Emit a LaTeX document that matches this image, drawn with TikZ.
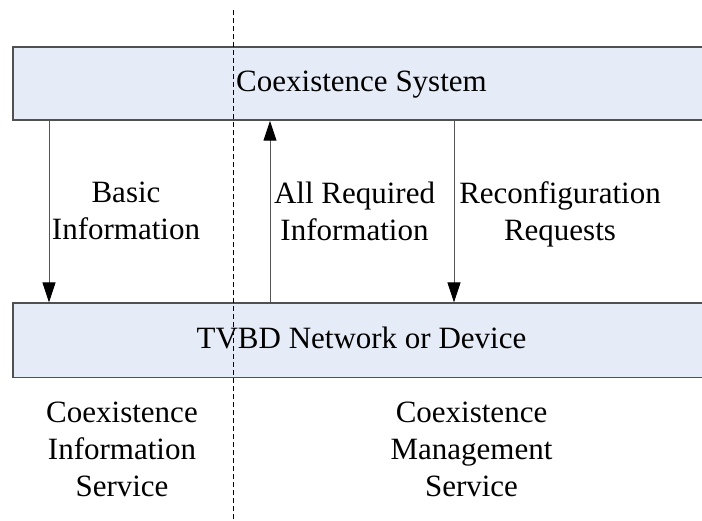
\documentclass[tikz,border=0pt]{standalone}
\usepackage{fontspec}
\setmainfont{Liberation Serif}
\usetikzlibrary{arrows.meta}
\definecolor{boxfill}{HTML}{E6ECF7}
\definecolor{boxline}{HTML}{505050}
\definecolor{arrline}{HTML}{555555}
\begin{document}
\begin{tikzpicture}[x=1pt,y=-1pt,
  every node/.style={font=\fontsize{31}{37}\selectfont},
  box/.style={draw=boxline, line width=1.5pt, fill=boxfill, minimum width=697pt, inner sep=0pt, text height=22pt, text depth=5pt},
  lbl/.style={align=center, inner sep=0pt},
  flow/.style={draw=arrline, line width=1pt, -{Triangle[length=20pt,width=13pt,color=black]}},
  divider/.style={draw=black, line width=1pt, dash pattern=on 5pt off 3pt}]
\useasboundingbox (0,0) rectangle (702,521);
\clip (0,0) rectangle (702,521);
\node[box, minimum height=73pt] (cs) at (361.5,83.5) {Coexistence System};
\node[box, minimum height=74.5pt] (tv) at (361.5,340.5) {TVBD Network or Device};
\coordinate (x1) at (49,0);
\coordinate (x2) at (270,0);
\coordinate (x3) at (454,0);
\draw[flow] (cs.south -| x1) -- (tv.north -| x1);
\draw[flow] (tv.north -| x2) -- (cs.south -| x2);
\draw[flow] (cs.south -| x3) -- (tv.north -| x3);
\node[lbl] (l1) at (126,210.9) {Basic\\Information};
\node[lbl] (l2) at (354.5,210.9) {All Required\\Information};
\node[lbl] (l3) at (560,214.3) {Reconfiguration\\Requests};
\node[lbl] (s1) at (122,449.5) {Coexistence\\Information\\Service};
\node[lbl] (s2) at (471.5,449.5) {Coexistence\\Management\\Service};
\coordinate (d1) at (233,10);
\coordinate (d2) at (233,521);
\draw[divider] (d1) -- (d2);
\end{tikzpicture}
\end{document}
